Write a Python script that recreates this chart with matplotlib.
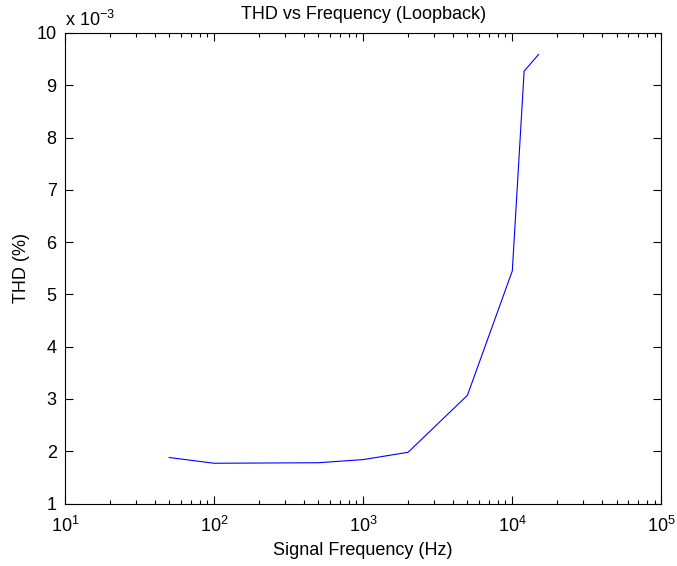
import math
import matplotlib
matplotlib.use("Agg")
import matplotlib.pyplot as plt
from matplotlib.ticker import LogLocator, FuncFormatter, FixedLocator, NullFormatter

plt.rcParams['font.family'] = ['Liberation Sans', 'DejaVu Sans']
plt.rcParams['mathtext.fontset'] = 'custom'
plt.rcParams['mathtext.rm'] = 'Liberation Sans'
plt.rcParams['mathtext.it'] = 'Liberation Sans:italic'
plt.rcParams['mathtext.bf'] = 'Liberation Sans:bold'

# Measured loopback distortion
freq_hz = [50, 100, 500, 1000, 2000, 5000, 10000, 12000, 15000]
thd_pct = [1.88e-3, 1.77e-3, 1.78e-3, 1.84e-3, 1.98e-3, 3.07e-3, 5.45e-3, 9.27e-3, 9.59e-3]
y_ticks = [1e-3, 2e-3, 3e-3, 4e-3, 5e-3, 6e-3, 7e-3, 8e-3, 9e-3, 10e-3]
scale = 1e-3

FS = 13

fig = plt.figure(figsize=(6.77, 5.66), dpi=100)
ax = fig.add_axes([0.096, 0.1104, 0.881, 0.8313])

ax.plot(freq_hz, thd_pct, color=(0, 0, 1), lw=0.8)

ax.set_xscale('log')
ax.set_xlim(10, 1e5)
ax.set_ylim(1e-3, 10e-3)

ax.xaxis.set_major_locator(LogLocator(base=10, numticks=10))
ax.xaxis.set_minor_locator(LogLocator(base=10, subs=range(2, 10), numticks=20))
ax.xaxis.set_minor_formatter(NullFormatter())
ax.xaxis.set_major_formatter(FuncFormatter(lambda v, p: r'$10^{%d}$' % round(math.log10(v))))

ax.yaxis.set_major_locator(FixedLocator(y_ticks))
ax.yaxis.set_major_formatter(FuncFormatter(lambda v, p: '%g' % round(v / scale, 6)))

ax.tick_params(which='both', direction='in', top=True, right=True, labelsize=FS, width=0.8, colors='black')
ax.tick_params(which='major', length=6)
ax.tick_params(which='minor', length=3)
ax.tick_params(axis='x', which='major', pad=9)
ax.tick_params(axis='y', which='major', pad=6)
for s in ax.spines.values():
    s.set_linewidth(0.8)

ax.text(0.0, 1.006, r'x $10^{-3}$', transform=ax.transAxes, fontsize=FS, ha='left', va='bottom')

ax.set_title('THD vs Frequency (Loopback)', fontsize=FS, pad=10)
ax.set_xlabel('Signal Frequency (Hz)', fontsize=FS, labelpad=4)
ax.set_ylabel('THD (%)', fontsize=FS, labelpad=5)

fig.savefig('out.png', dpi=100)
